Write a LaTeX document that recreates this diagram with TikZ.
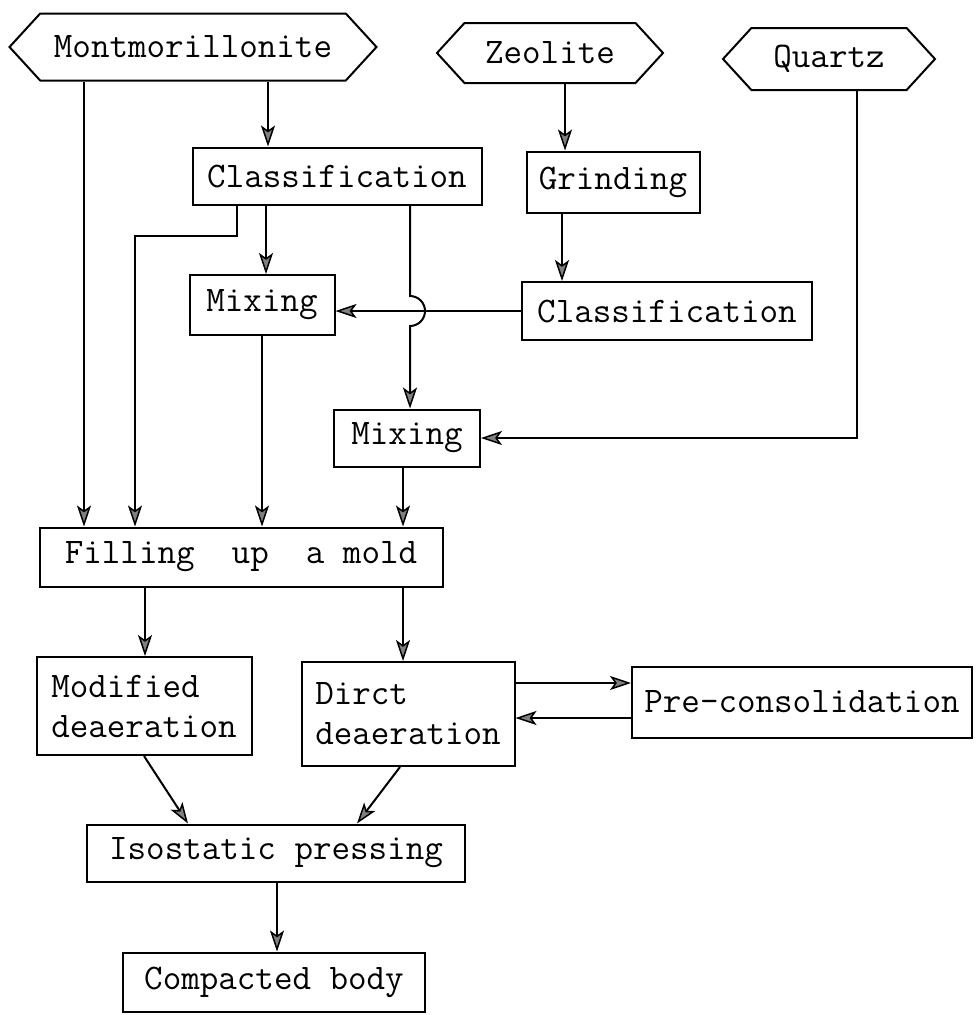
\documentclass[tikz,border=0pt]{standalone}
\usepackage{tikz}
\usetikzlibrary{arrows.meta,shapes.symbols,calc}

\begin{document}
\begin{tikzpicture}[x=1pt, y=-1pt, line width=2pt,
    font=\fontsize{36}{40}\selectfont\ttfamily,
    box/.style={rectangle, draw, inner sep=0pt, align=left},
    src/.style={signal, draw, signal to=east and west, signal pointer angle=95, inner sep=0pt},
    arr/.style={-{Stealth[length=21pt, width=14pt, inset=5pt, fill=gray, line width=1.5pt]}}]
    \useasboundingbox (0,0) rectangle (976,1015);

    % Nodes
    \node[src, minimum width=367pt, minimum height=67pt] (mont) at (193,47) {Montmorillonite};
    \node[src, minimum width=226pt, minimum height=60pt] (zeo) at (550,53) {Zeolite};
    \node[src, minimum width=212pt, minimum height=62pt] (qtz) at (829,59) {Quartz};
    \node[box, minimum width=289pt, minimum height=57pt] (cls1) at (337,176) {Classification};
    \node[box, minimum width=173pt, minimum height=61pt] (grind) at (613,182) {Grinding};
    \node[box, minimum width=145pt, minimum height=60pt] (mix1) at (262,305) {Mixing};
    \node[box, minimum width=290pt, minimum height=58pt] (cls2) at (667,311) {Classification};
    \node[box, minimum width=146pt, minimum height=57pt] (mix2) at (407,438) {Mixing};
    \node[box, minimum width=403pt, minimum height=59pt] (fill) at (241,557) {Filling\ \ up\ \ a mold};
    \node[box, minimum width=215pt, minimum height=98pt] (modi) at (144,706) {Modified\\deaeration};
    \node[box, minimum width=213pt, minimum height=104pt] (dir) at (408,714) {Dirct\\deaeration};
    \node[box, minimum width=340pt, minimum height=71pt] (pre) at (802,702) {Pre-consolidation};
    \node[box, minimum width=378pt, minimum height=57pt] (iso) at (276,853) {Isostatic pressing};
    \node[box, minimum width=302pt, minimum height=59pt] (comp) at (274,982) {Compacted body};

    % Edges
    \draw[arr] ([xshift=-109]mont.south) -- ([xshift=-109]mont.south |- fill.north);
    \draw[arr] ([xshift=75]mont.south) -- ([xshift=75]mont.south |- cls1.north);
    \draw[arr] ([xshift=-100]cls1.south) -- ++(0,30) -| ([xshift=-106]fill.north);
    \draw[arr] ([xshift=-71]cls1.south) -- ([xshift=-71]cls1.south |- mix1.north);
    \draw[arr] ([xshift=73]cls1.south) -- ($([xshift=73]cls1.south |- cls2.west)+(0,-15)$)
        arc[start angle=90, end angle=-90, radius=15pt]
        -- ([xshift=73]cls1.south |- mix2.north);
    \draw[arr] ([xshift=15]zeo.south) -- ([xshift=15]zeo.south |- grind.north);
    \draw[arr] ([xshift=-51]grind.south) -- ([xshift=-51]grind.south |- cls2.north);
    \draw[arr] (cls2.west) -- (cls2.west -| mix1.east);
    \draw[arr] ([xshift=28]qtz.south) |- (mix2.east);
    \draw[arr] (mix1.south) -- (mix1.south |- fill.north);
    \draw[arr] ([xshift=-4]mix2.south) -- ([xshift=-4]mix2.south |- fill.north);
    \draw[arr] ([xshift=1]modi.north |- fill.south) -- ([xshift=1]modi.north);
    \draw[arr] ([xshift=-5]dir.north |- fill.south) -- ([xshift=-5]dir.north);
    \draw[arr] ([yshift=19]pre.west -| dir.east) -- ([yshift=19]pre.west);
    \draw[arr] ([yshift=-16]pre.west) -- ([yshift=-16]pre.west -| dir.east);
    \draw[arr] (modi.south) -- ([xshift=-88]iso.north);
    \draw[arr] ([xshift=-8]dir.south) -- ([xshift=81]iso.north);
    \draw[arr] ([xshift=1]iso.south) -- ([xshift=1]iso.south |- comp.north);
\end{tikzpicture}
\end{document}
